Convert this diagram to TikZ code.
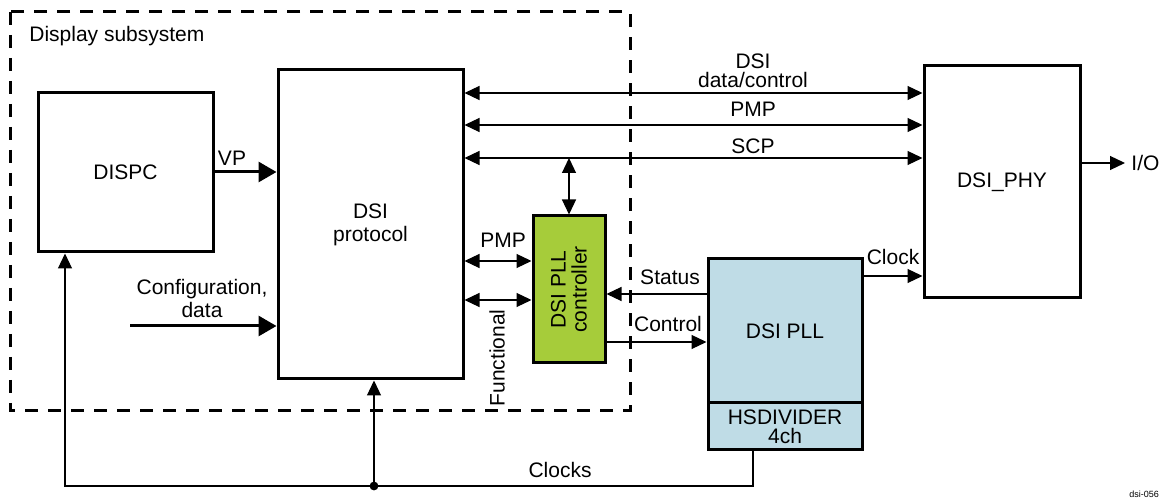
\documentclass[tikz,border=0pt]{standalone}
\usepackage{fontspec}
\setmainfont{Liberation Sans}
\usetikzlibrary{arrows.meta}

\definecolor{ctrlgreen}{HTML}{A6CC3A}
\definecolor{pllblue}{HTML}{BFDCE6}

\tikzset{
    block/.style={draw, line width=1.5pt, rectangle, inner sep=0pt, align=center},
    sig/.style={line width=0.6pt, -{Triangle[length=7.5pt,width=7pt]}},
    dsig/.style={line width=0.6pt, {Triangle[length=7.5pt,width=7pt]}-{Triangle[length=7.5pt,width=7pt]}},
    bus/.style={line width=1.5pt, -{Triangle[length=9pt,width=10pt]}},
    lbl/.style={inner sep=0pt, align=center},
}

\begin{document}
\begin{tikzpicture}[x=0.5pt, y=-0.5pt, font=\fontsize{10.5}{11.5}\selectfont]
    \useasboundingbox (0,0) rectangle (1161,501);

    % display subsystem frame
    \draw[line width=1.5pt, dash pattern=on 6.5pt off 5pt] (10,12) rectangle (630,411);
    \node[lbl, anchor=west] (dsstitle) at (29,36) {Display subsystem};

    % blocks
    \node[block, minimum width=87.5pt, minimum height=79.5pt] (dispc) at (125.5,172.5) {DISPC};
    \node[block, minimum width=92.5pt, minimum height=154.5pt] (proto) at (370.5,224.5) {DSI\\protocol};
    \node[block, minimum width=78pt, minimum height=116pt] (phy) at (1002,182) {DSI\_PHY};
    \node[block, fill=ctrlgreen, minimum width=36pt, minimum height=73.5pt] (ctrl) at (569,289.5) {};
    \node[lbl, rotate=90, font=\fontsize{10.5}{10.5}\selectfont] (ctrltext) at (ctrl.center) {DSI PLL\\controller};
    \node[block, fill=pllblue, minimum width=77pt, minimum height=72pt] (pll) at (785,331) {DSI PLL};
    \node[block, fill=pllblue, minimum width=77pt, minimum height=23.5pt,
          font=\fontsize{10.5}{9.5}\selectfont] (hsdiv) at (785,426.5) {HSDIVIDER\\4ch};

    % links protocol <-> phy
    \foreach \y in {93,125,158} {
        \draw[dsig] (proto.east |- 0,\y) -- (phy.west |- 0,\y);
    }
    \node[lbl, font=\fontsize{10.5}{9.5}\selectfont] (dsilbl) at (753,71) {DSI\\data/control};
    \node[lbl] (pmplbl) at (753,109) {PMP};
    \node[lbl] (scplbl) at (753,146) {SCP};
    \draw[dsig] (ctrl.north |- 0,158) -- (ctrl.north);

    % protocol <-> controller
    \draw[dsig] (proto.east |- 0,261) -- (ctrl.west |- 0,261);
    \node[lbl] (pmp2lbl) at (503,240) {PMP};
    \draw[dsig] (proto.east |- 0,300) -- (ctrl.west |- 0,300);
    \node[lbl, rotate=90] (funclbl) at (497,358) {Functional};

    % controller <-> pll
    \draw[sig] (pll.west |- 0,294) -- (ctrl.east |- 0,294);
    \node[lbl] (statlbl) at (670,277) {Status};
    \draw[sig] (ctrl.east |- 0,342) -- (pll.west |- 0,342);
    \node[lbl] (ctllbl) at (668,324) {Control};
    \draw[sig] (pll.east |- 0,276) -- (phy.west |- 0,276);
    \node[lbl] (clklbl) at (893,257) {Clock};

    % I/O
    \coordinate (io) at (1125,163);
    \draw[sig] (phy.east |- io) -- (io);
    \node[lbl, anchor=west] (iolbl) at (1131,163) {I/O};

    % inputs
    \draw[bus] (dispc.east |- 0,172) -- (proto.west |- 0,172);
    \node[lbl] (vplbl) at (232,158) {VP};
    \coordinate (cfgin) at (130,326);
    \draw[bus] (cfgin) -- (proto.west |- cfgin);
    \node[lbl, font=\fontsize{10.5}{11.5}\selectfont] (cfglbl) at (202,298) {Configuration,\\data};

    % clocks
    \coordinate (split) at (374,486);
    \draw[line width=0.6pt] (hsdiv.south -| 753,0) |- (split);
    \draw[sig] (split) -| (dispc.south -| 65,0);
    \draw[sig] (split) -- (proto.south -| split);
    \fill (split) circle[radius=2.2pt];
    \node[lbl] (clkslbl) at (560,470) {Clocks};

    \node[lbl, font=\fontsize{4.5}{5}\selectfont] (figid) at (1144,494) {dsi-056};
\end{tikzpicture}
\end{document}
